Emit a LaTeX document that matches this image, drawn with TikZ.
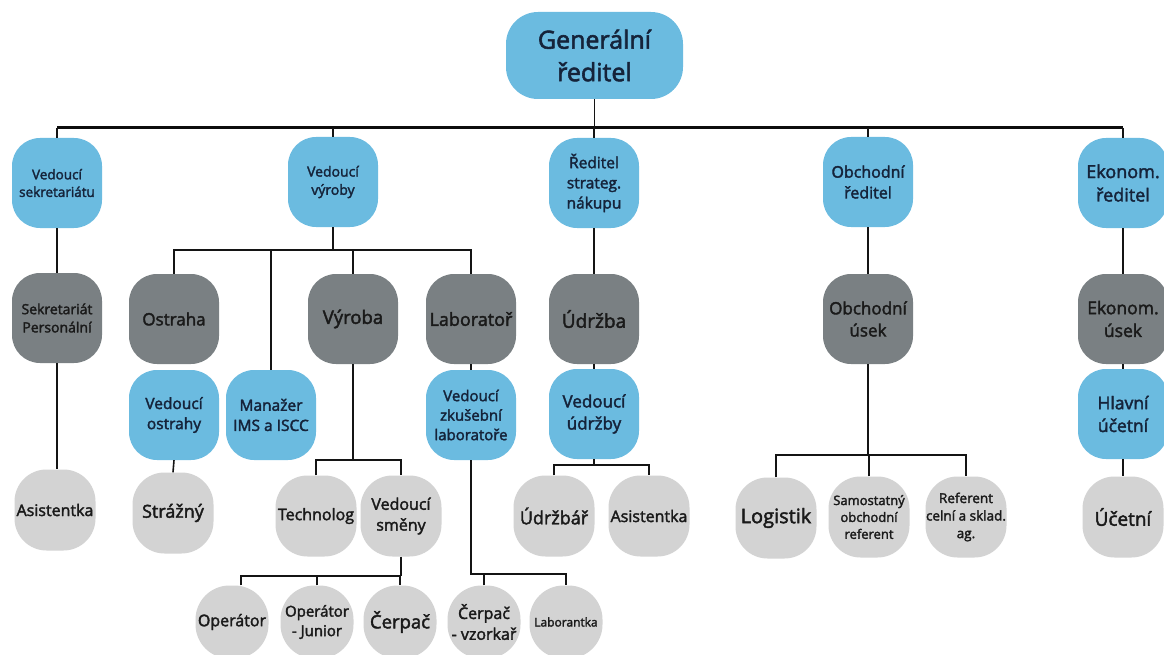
\documentclass[tikz,border=0pt]{standalone}
\usepackage{fontspec}
\newfontfamily\osf{Open Sans}[FakeBold=2.2]
\definecolor{cblue}{HTML}{6BBBE0}
\definecolor{cdark}{HTML}{7A8083}
\definecolor{clight}{HTML}{D3D3D3}
\definecolor{tblue}{HTML}{15233A}
\definecolor{tgray}{HTML}{1A1A1A}
\newcommand{\fsz}[1]{\fontsize{#1pt}{\fpeval{#1*1.3}pt}\selectfont}
\tikzset{
  fsize/.style={font=\osf\fsz{#1}},
  orgbox/.style={rounded corners=28pt, minimum width=90pt, minimum height=90pt,
    align=center, inner sep=0pt},
  bluebox/.style={orgbox, fill=cblue, text=tblue},
  darkbox/.style={orgbox, fill=cdark, text=tgray},
  lightbox/.style={orgbox, fill=clight, text=tgray, minimum width=81pt, minimum height=81pt, rounded corners=32pt},
  smallbox/.style={orgbox, fill=clight, text=tgray, minimum width=73pt, minimum height=73pt, rounded corners=34pt},
  conn/.style={draw=black!92, line width=1.6pt},
  busline/.style={draw=black!95, line width=3pt},
}
\begin{document}
\begin{tikzpicture}[x=1pt,y=-1pt]
\useasboundingbox (0,0) rectangle (1164,655);
\clip (0,0) rectangle (1164,655);
% top
\node[bluebox, minimum width=177pt, minimum height=87pt, rounded corners=32pt, fsize=25] (gr) at (594.5,55.5) {Generální\\ředitel};
% level 1
\node[bluebox, fsize=13.5] (sek) at (57,183) {Vedoucí\\sekretariátu};
\node[bluebox, fsize=14] (vv) at (333,182) {Vedoucí\\výroby};
\node[bluebox, fsize=15.5] (rsn) at (594,183) {Ředitel\\strateg.\\nákupu};
\node[bluebox, fsize=16] (obr) at (868,182) {Obchodní\\ředitel};
\node[bluebox, fsize=18] (ekr) at (1123,183) {Ekonom.\\ředitel};
% level 2 dark
\node[darkbox, fsize=14] (sp) at (57,318) {Sekretariát\\Personální};
\node[darkbox, fsize=17] (os) at (174,319) {Ostraha};
\node[darkbox, fsize=18.5] (vy) at (353,319) {Výroba};
\node[darkbox, fsize=18] (lab) at (471,319) {Laboratoř};
\node[darkbox, fsize=19] (ud) at (594,319) {Údržba};
\node[darkbox, fsize=17] (obu) at (868,319) {Obchodní\\úsek};
\node[darkbox, fsize=17.5] (eku) at (1123,319) {Ekonom.\\úsek};
% level 3 blue
\node[bluebox, fsize=15.5] (vo) at (174,415) {Vedoucí\\ostrahy};
\node[bluebox, fsize=15.5] (man) at (271,415) {Manažer\\IMS a ISCC};
\node[bluebox, fsize=15] (vzl) at (471,415) {Vedoucí\\zkušební\\laboratoře};
\node[bluebox, fsize=17] (vud) at (594,414) {Vedoucí\\údržby};
\node[bluebox, fsize=17.5] (hu) at (1123,414) {Hlavní\\účetní};
% level 4 light
\node[lightbox, fsize=16] (as1) at (55,510) {Asistentka};
\node[lightbox, fsize=18] (str) at (173,513) {Strážný};
\node[lightbox, fsize=16] (tech) at (316,516) {Technolog};
\node[lightbox, fsize=16] (vsm) at (401,516) {Vedoucí\\směny};
\node[lightbox, fsize=18] (udr) at (554,516) {Údržbář};
\node[lightbox, fsize=16] (as2) at (649,516) {Asistentka};
\node[lightbox, fsize=20] (log) at (776,518) {Logistik};
\node[lightbox, fsize=13] (sor) at (869,517) {Samostatný\\obchodní\\referent};
\node[lightbox, fsize=13.5] (ref) at (966,517) {Referent\\celní a sklad.\\ag.};
\node[lightbox, fsize=19] (uc) at (1123,517) {Účetní};
% level 5
\node[smallbox, fsize=16] (op) at (232,622) {Operátor};
\node[smallbox, fsize=15] (opj) at (317,622) {Operátor\\- Junior};
\node[smallbox, fsize=18.5] (cer) at (400,622) {Čerpač};
\node[smallbox, fsize=16] (cv) at (484,622) {Čerpač\\- vzorkař};
\node[smallbox, fsize=12] (lbt) at (566,622) {Laborantka};
% connectors
\coordinate (b1) at (0,128);
\coordinate (b2) at (0,250);
\coordinate (b3) at (0,460);
\coordinate (b4) at (0,576);
\coordinate (b5) at (0,574);
\coordinate (b6) at (0,465);
\coordinate (b7) at (0,455);
\draw[busline] (sek.north |- b1) -- (ekr.north |- b1);
\draw[conn] (gr.south) -- (gr.south |- b1);
\foreach \n in {sek,vv,rsn,obr,ekr}{\draw[conn] (\n.north |- b1) -- (\n.north);}
\draw[conn] (sek.south) -- (sp.north);
\draw[conn] (sp.south) -- (sp.south |- as1.north);
\draw[conn] (vv.south) -- (vv.south |- b2);
\draw[conn] (os.north) -- (os.north |- b2) -- (lab.north |- b2) -- (lab.north);
\draw[conn] (man.north) -- (man.north |- b2);
\draw[conn] (vy.north) -- (vy.north |- b2);
\draw[conn] (vo.south) -- (str.north);
\draw[conn] (lab.south) -- (vzl.north);
\draw[conn] (vy.south) -- (vy.south |- b3);
\draw[conn] (tech.north) -- (tech.north |- b3) -- (vsm.north |- b3) -- (vsm.north);
\draw[conn] (vsm.south) -- (vsm.south |- b4);
\draw[conn] ([xshift=9pt]op.north) -- ([xshift=9pt]op.north |- b4) -- (cer.north |- b4) -- (cer.north);
\draw[conn] (opj.north) -- (opj.north |- b4);
\draw[conn] (vzl.south) -- (vzl.south |- b5) -- (lbt.north |- b5) -- (lbt.north);
\draw[conn] (cv.north) -- (cv.north |- b5);
\draw[conn] (rsn.south) -- (ud.north);
\draw[conn] (ud.south) -- (vud.north);
\draw[conn] (vud.south) -- (vud.south |- b6);
\draw[conn] (udr.north) -- (udr.north |- b6) -- (as2.north |- b6) -- (as2.north);
\draw[conn] (obr.south) -- (obu.north);
\draw[conn] (obu.south) -- (obu.south |- b7);
\draw[conn] (log.north) -- (log.north |- b7) -- (ref.north |- b7) -- (ref.north);
\draw[conn] (sor.north) -- (sor.north |- b7);
\draw[conn] (ekr.south) -- (eku.north);
\draw[conn] (eku.south) -- (hu.north);
\draw[conn] (hu.south) -- (uc.north);
\end{tikzpicture}
\end{document}
